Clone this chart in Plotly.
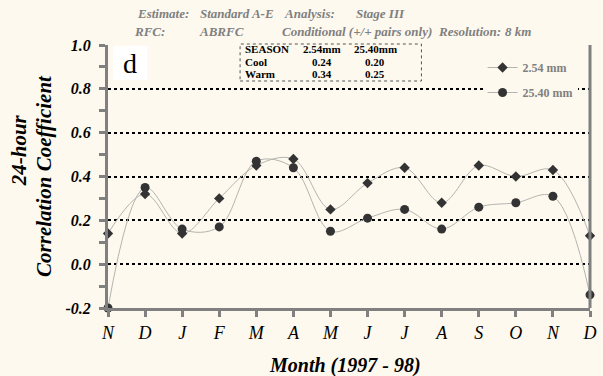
import plotly.graph_objects as go

months = ["N", "D", "J", "F", "M", "A", "M", "J", "J", "A", "S", "O", "N", "D"]
series_names = ["2.54 mm", "25.40 mm"]
corr_254 = [0.14, 0.32, 0.14, 0.30, 0.45, 0.48, 0.25, 0.37, 0.44, 0.28, 0.45, 0.40, 0.43, 0.13]
corr_2540 = [-0.20, 0.35, 0.16, 0.17, 0.47, 0.44, 0.15, 0.21, 0.25, 0.16, 0.26, 0.28, 0.31, -0.14]
y_ticks = [-0.2, 0.0, 0.2, 0.4, 0.6, 0.8, 1.0]
table_header = ["SEASON", "2.54mm", "25.40mm"]
table_rows = [["Cool", "0.24", "0.20"], ["Warm", "0.34", "0.25"]]

BG = "#FDF9EE"
SERIF = "Liberation Serif"
W, H = 603, 376
L, R, T, B = 108, 6, 45, 68
PW, PH = W - L - R, H - T - B


def px(x):
    return (x - L) / PW


def py(y):
    return (H - B - y) / PH


x = list(range(len(months)))
fig = go.Figure()
for name, vals, sym, size in [(series_names[0], corr_254, "diamond", 8),
                              (series_names[1], corr_2540, "circle", 9)]:
    fig.add_trace(go.Scatter(
        x=x, y=vals, name=name, mode="lines+markers", legendgroup=name,
        line=dict(color="#B4B4B0", width=1, shape="spline", smoothing=1.0),
        marker=dict(symbol=sym, size=size, color="#333333"),
        cliponaxis=False,
    ))

fig.update_layout(
    width=W, height=H,
    margin=dict(l=L, r=R, t=T, b=B),
    paper_bgcolor=BG, plot_bgcolor=BG,
    showlegend=True,
    legend=dict(x=px(488), y=py(53), xanchor="left", yanchor="top",
                bgcolor=BG, itemwidth=30, tracegroupgap=6,
                font=dict(family=SERIF, size=12, color="#808080", weight="bold")),
)

fig.update_xaxes(
    range=[0, len(months) - 1], tickmode="array", tickvals=x, ticktext=months,
    showgrid=False, zeroline=False, showline=True, linecolor="#808080", linewidth=3,
    ticks="outside", ticklen=6, tickwidth=3, tickcolor="#808080",
    tickfont=dict(family=SERIF, size=18, color="black", style="italic"),
    ticklabeloverflow="allow",
)
fig.update_yaxes(
    range=[y_ticks[0], y_ticks[-1]], tickmode="array", tickvals=y_ticks,
    ticktext=[f"{v:.1f}" for v in y_ticks],
    showgrid=True, gridcolor="black", gridwidth=2, griddash="3px,3px",
    zeroline=False, showline=True, linecolor="#808080", linewidth=3,
    ticks="outside", ticklen=6, tickwidth=3, tickcolor="#808080",
    minor=dict(dtick=0.1, ticks="outside", ticklen=6, tickwidth=3, tickcolor="#808080", showgrid=False),
    tickfont=dict(family=SERIF, size=16, color="black", style="italic", weight="bold"),
    ticklabelstandoff=5,
)

# right border line
fig.add_shape(type="line", xref="paper", yref="paper", x0=1, x1=1, y0=0, y1=1,
              line=dict(color="#808080", width=3))

# header text
hdr_font = dict(family=SERIF, size=13, color="#808080", style="italic", weight="bold")
for txt, xx, yy in [("Estimate:", 135, 14), ("Standard A-E", 199, 14), ("Analysis:", 285, 14),
                    ("Stage III", 358, 14), ("RFC:", 132, 32), ("ABRFC", 198, 32),
                    ("Conditional (+/+ pairs only)", 283, 32), ("Resolution:", 441, 32),
                    ("8 km", 509, 32)]:
    fig.add_annotation(text=txt, x=px(xx), y=py(yy), xref="paper", yref="paper",
                       xanchor="left", yanchor="middle", showarrow=False, font=hdr_font)

# axis titles
title_font = dict(family=SERIF, size=21, color="black", style="italic", weight="bold")
fig.add_annotation(text="24-hour", x=px(18), y=py(150), xref="paper", yref="paper",
                   xanchor="center", yanchor="middle",
                   textangle=-90, showarrow=False, font=title_font)
fig.add_annotation(text="Correlation Coefficient", x=px(43), y=py(176), xref="paper", yref="paper",
                   xanchor="center", yanchor="middle",
                   textangle=-90, showarrow=False, font=title_font)
fig.add_annotation(text="Month (1997 - 98)", x=px(348), y=py(366), xref="paper", yref="paper",
                   xanchor="center", yanchor="middle", showarrow=False,
                   font=dict(family=SERIF, size=20, color="black", style="italic", weight="bold"))

# panel label
fig.add_shape(type="rect", xref="paper", yref="paper", x0=px(113), x1=px(148), y0=py(80), y1=py(46),
              fillcolor="white", line=dict(width=0))
fig.add_annotation(text="d", x=px(130), y=py(63), xref="paper", yref="paper", showarrow=False,
                   xanchor="center", yanchor="middle",
                   font=dict(family=SERIF, size=28, color="black"))

# season table
fig.add_shape(type="rect", xref="paper", yref="paper", x0=px(242), x1=px(426), y0=py(81), y1=py(44),
              fillcolor=BG, line=dict(color="#555555", width=1, dash="dot"))
col_x = [245, 325, 379]
col_anchor = ["left", "center", "center"]
row_y = [49, 62, 74]
tfont = dict(family=SERIF, size=11, color="black", weight="bold")
for r, row in enumerate([table_header] + table_rows):
    for c, cell in enumerate(row):
        fig.add_annotation(text=cell, x=px(col_x[c]), y=py(row_y[r]), xref="paper", yref="paper",
                           xanchor=col_anchor[c], yanchor="middle", showarrow=False, font=tfont)

fig.write_html("out.html", config={"displayModeBar": False},
               post_script="document.body.style.margin='0';")
